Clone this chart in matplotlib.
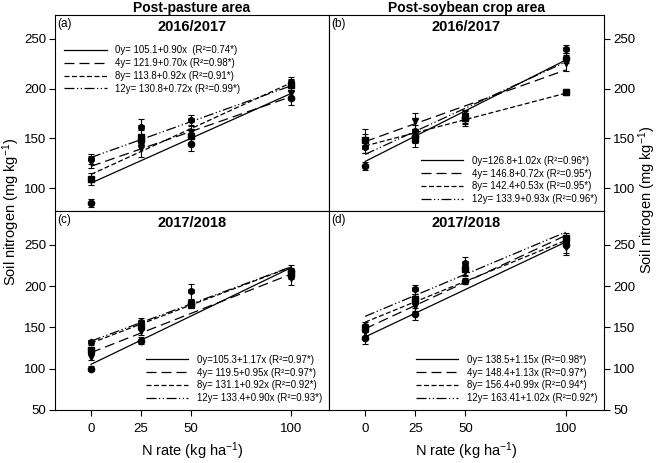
import numpy as np
import matplotlib
matplotlib.use("Agg")
import matplotlib.pyplot as plt

plt.rcParams['font.family'] = ['Liberation Sans', 'DejaVu Sans']
plt.rcParams['mathtext.default'] = 'regular'

n_rate = [0, 25, 50, 100]
ages = ["0", "4", "8", "12"]

# panel (a) post-pasture 2016/2017
a_vals = [[85, 147, 144, 191], [126, 140, 156, 196], [109, 151, 152, 204], [129, 161, 168, 207]]
a_err = [[4, 6, 7, 7], [6, 9, 6, 6], [6, 7, 6, 6], [5, 8, 5, 5]]
a_fit = [(105.1, 0.90), (121.9, 0.70), (113.8, 0.92), (130.8, 0.72)]
a_lab = ["y= 105.1+0.90x  (R²=0.74*)", "y= 121.9+0.70x (R²=0.98*)",
         "y= 113.8+0.92x (R²=0.91*)", "y= 130.8+0.72x (R²=0.99*)"]

# panel (b) post-soybean 2016/2017
b_vals = [[122, 152, 170, 231], [147, 167, 172, 226], [148, 149, 170, 197], [141, 157, 173, 240]]
b_err = [[4, 7, 6, 5], [12, 8, 7, 8], [6, 8, 8, 3], [6, 6, 6, 4]]
b_fit = [(126.8, 1.02), (146.8, 0.72), (142.4, 0.53), (133.9, 0.93)]
b_lab = ["y=126.8+1.02x (R²=0.96*)", "y= 146.8+0.72x (R²=0.95*)",
         "y= 142.4+0.53x (R²=0.95*)", "y= 133.9+0.93x (R²=0.96*)"]

# panel (c) post-pasture 2017/2018
c_vals = [[100, 134, 178, 218], [114, 146, 178, 210], [123, 152, 178, 215], [132, 157, 194, 216]]
c_err = [[3, 4, 5, 8], [4, 5, 5, 9], [3, 5, 5, 6], [3, 5, 9, 6]]
c_fit = [(105.3, 1.17), (119.5, 0.95), (131.1, 0.92), (133.4, 0.90)]
c_lab = ["y=105.3+1.17x (R²=0.97*)", "y= 119.5+0.95x (R²=0.97*)",
         "y= 131.1+0.92x (R²=0.92*)", "y= 133.4+0.90x (R²=0.93*)"]

# panel (d) post-soybean 2017/2018
d_vals = [[137, 166, 206, 250], [145, 176, 218, 248], [149, 185, 221, 258], [152, 196, 228, 254]]
d_err = [[7, 7, 4, 12], [5, 6, 6, 8], [4, 6, 7, 6], [4, 5, 7, 5]]
d_fit = [(138.5, 1.15), (148.4, 1.13), (156.4, 0.99), (163.41, 1.02)]
d_lab = ["y= 138.5+1.15x (R²=0.98*)", "y= 148.4+1.13x (R²=0.97*)",
         "y= 156.4+0.99x (R²=0.94*)", "y= 163.41+1.02x (R²=0.92*)"]

markers = ["o", "v", "s", "h"]
dashes = [(None, None), (8, 4), (4, 2), (8, 2, 1, 2, 1, 2)]

fig = plt.figure(figsize=(6.58, 4.63), dpi=100)
W, H = 658, 463


def px_axes(x0, y0, x1, y1):
    return fig.add_axes([x0 / W, 1 - y1 / H, (x1 - x0) / W, (y1 - y0) / H])


ax_a = px_axes(55, 15, 329, 211)
ax_b = px_axes(329, 15, 604, 211)
ax_c = px_axes(55, 211, 329, 410)
ax_d = px_axes(329, 211, 604, 410)


def draw(ax, vals, err, fit, labels, letter, year, loc, anchor):
    xx = np.array([0, 100])
    for i in range(4):
        b0, b1 = fit[i]
        ln, = ax.plot(xx, b0 + b1 * xx, color="black", lw=0.9,
                      label=ages[i] + labels[i])
        if dashes[i][0] is not None:
            ln.set_dashes(dashes[i])
        ax.errorbar(n_rate, vals[i], yerr=err[i], fmt=markers[i], color="black",
                    ms=4.5, capsize=2.5, elinewidth=0.8, capthick=0.8)
    ax.set_xlim(-18, 119)
    ax.text(0.01, 0.985, letter, transform=ax.transAxes, ha="left", va="top", fontsize=8.5)
    ax.text(0.5, 0.975, year, transform=ax.transAxes, ha="center", va="top",
            fontsize=10.5, fontweight="bold")
    ax.legend(loc=loc, bbox_to_anchor=anchor, frameon=False, fontsize=6.9,
              handlelength=4.4, handletextpad=0.9, labelspacing=0.3,
              borderaxespad=0.3)


draw(ax_a, a_vals, a_err, a_fit, a_lab, "(a)", "2016/2017", "upper left", (0.01, 0.88))
draw(ax_b, b_vals, b_err, b_fit, b_lab, "(b)", "2016/2017", "lower right", (1.0, 0.0))
draw(ax_c, c_vals, c_err, c_fit, c_lab, "(c)", "2017/2018", "lower right", (1.0, 0.0))
draw(ax_d, d_vals, d_err, d_fit, d_lab, "(d)", "2017/2018", "lower right", (1.0, 0.0))

for ax in (ax_a, ax_b):
    ax.set_ylim(77, 274)
    ax.set_yticks([100, 150, 200, 250])
    ax.tick_params(axis="x", bottom=False, labelbottom=False)
for ax in (ax_c, ax_d):
    ax.set_ylim(50, 291)
    ax.set_yticks([50, 100, 150, 200, 250])
    ax.set_xticks(n_rate)
    ax.tick_params(axis="x", direction="out", length=4, labelsize=9.5, pad=5)
for ax in (ax_a, ax_c):
    ax.tick_params(axis="y", left=True, right=False, direction="out", length=4,
                   labelsize=9.5, pad=2.5)
for ax in (ax_b, ax_d):
    ax.yaxis.tick_right()
    ax.tick_params(axis="y", right=True, left=False, labelright=True, labelleft=False,
                   direction="out", length=4, labelsize=9.5, pad=2.5)
for ax in (ax_a, ax_b, ax_c, ax_d):
    for s in ax.spines.values():
        s.set_linewidth(0.8)

fig.text(192 / W, 1 - 8 / H, "Post-pasture area", ha="center", va="center",
         fontsize=10, fontweight="bold")
fig.text(466 / W, 1 - 8 / H, "Post-soybean crop area", ha="center", va="center",
         fontsize=10, fontweight="bold")
fig.text(11 / W, 1 - 212 / H, "Soil nitrogen (mg kg$^{-1}$)", rotation=90,
         ha="center", va="center", fontsize=10.5)
fig.text(647 / W, 1 - 200 / H, "Soil nitrogen (mg kg$^{-1}$)", rotation=90,
         ha="center", va="center", fontsize=10.5)
fig.text(192 / W, 1 - 451 / H, "N rate (kg ha$^{-1}$)", ha="center", va="center",
         fontsize=10.5)
fig.text(466 / W, 1 - 451 / H, "N rate (kg ha$^{-1}$)", ha="center", va="center",
         fontsize=10.5)

fig.savefig("out.png", dpi=100)
